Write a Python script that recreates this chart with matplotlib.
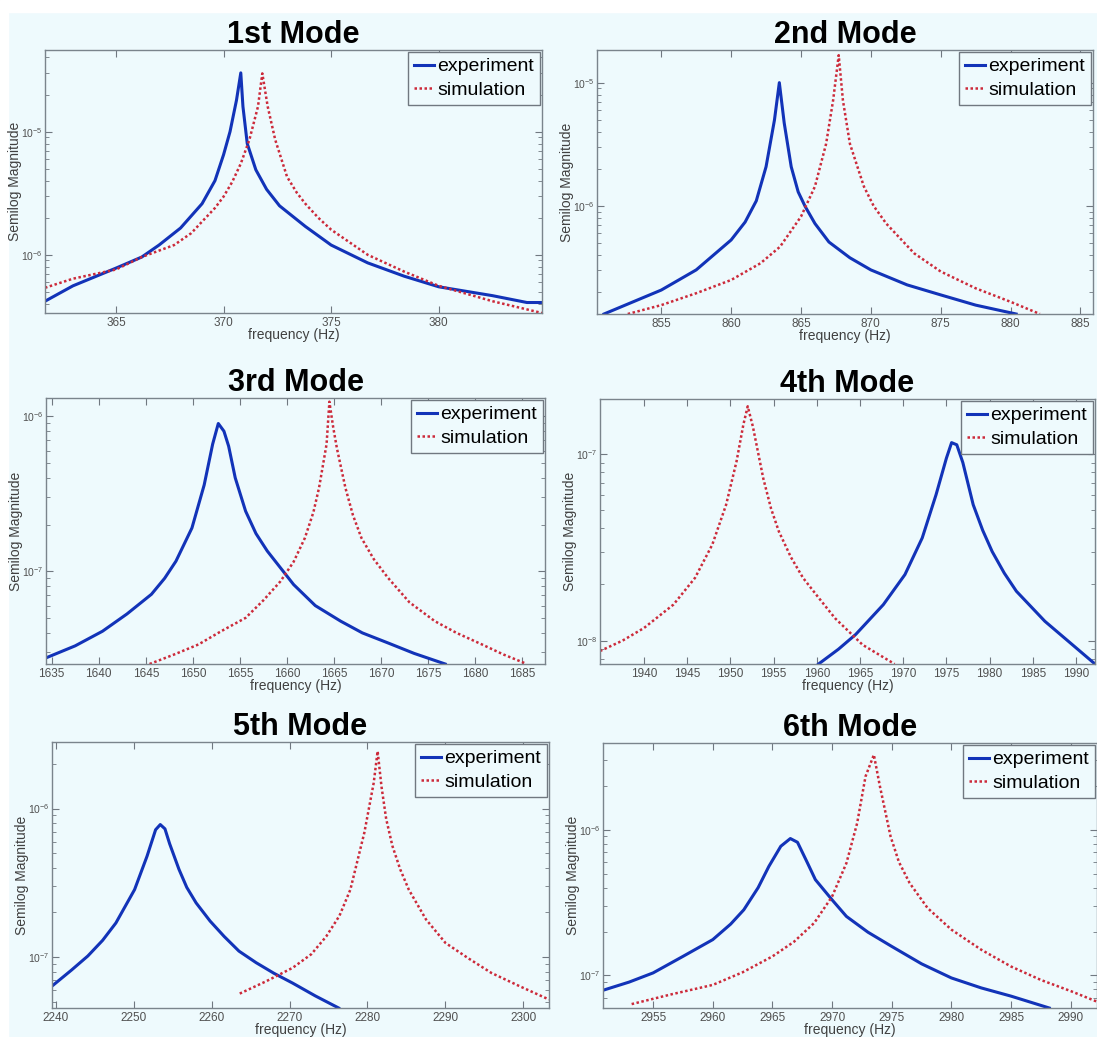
import numpy as np
import matplotlib.pyplot as plt
from matplotlib.patches import Rectangle
from matplotlib.ticker import NullFormatter, LogLocator

plt.rcParams['font.family'] = ['Liberation Sans', 'DejaVu Sans']

titles = ['1st Mode', '2nd Mode', '3rd Mode', '4th Mode', '5th Mode', '6th Mode']

# 1st mode
exp1_f = [361.7, 363.0, 365.0, 366.2, 367.0, 368.0, 369.0, 369.6, 370.0, 370.3, 370.6, 370.8, 370.9, 371.1,
          371.5, 372.0, 372.6, 373.8, 375.0, 376.7, 378.4, 380.0, 382.5, 384.1, 384.8]
exp1_m = [4.2e-7, 5.6e-7, 7.8e-7, 9.6e-7, 1.2e-6, 1.65e-6, 2.6e-6, 4.0e-6, 6.5e-6, 1.0e-5, 1.8e-5, 3.0e-5, 1.6e-5, 8.0e-6,
          4.9e-6, 3.4e-6, 2.5e-6, 1.7e-6, 1.2e-6, 8.6e-7, 6.7e-7, 5.5e-7, 4.66e-7, 4.1e-7, 4.1e-7]
sim1_f = [361.7, 363.0, 365.0, 366.2, 367.7, 368.5, 369.0, 369.6, 370.0, 370.4, 370.8, 371.2, 371.6, 371.8,
          372.05, 372.4, 372.95, 373.4, 373.8, 374.4, 375.0, 376.7, 378.4, 380.0, 382.5, 384.8]
sim1_m = [5.4e-7, 6.4e-7, 7.6e-7, 9.6e-7, 1.2e-6, 1.5e-6, 1.86e-6, 2.4e-6, 2.97e-6, 3.9e-6, 5.5e-6, 8.6e-6, 1.6e-5, 2.97e-5,
          1.6e-5, 8.6e-6, 4.3e-6, 3.2e-6, 2.6e-6, 2.0e-6, 1.6e-6, 1.0e-6, 7.3e-7, 5.6e-7, 4.2e-7, 3.37e-7]

# 2nd mode
exp2_f = [850.9, 855.0, 857.5, 860.0, 861.0, 861.8, 862.5, 863.1, 863.45, 863.8, 864.3, 864.8, 865.3, 866.0, 867.0,
          868.5, 870.0, 872.6, 875.0, 877.5, 880.4]
exp2_m = [1.33e-7, 2.08e-7, 3.03e-7, 5.3e-7, 7.4e-7, 1.1e-6, 2.08e-6, 4.97e-6, 1.0e-5, 4.7e-6, 2.08e-6, 1.3e-6, 9.9e-7, 7.2e-7, 5.1e-7,
          3.8e-7, 3.03e-7, 2.29e-7, 1.9e-7, 1.57e-7, 1.33e-7]
sim2_f = [852.6, 855.0, 857.5, 860.0, 862.1, 863.5, 865.0, 866.0, 866.8, 867.3, 867.7, 868.0, 868.5,
          869.5, 870.2, 871.1, 873.1, 875.0, 877.5, 880.0, 882.1]
sim2_m = [1.33e-7, 1.57e-7, 1.96e-7, 2.51e-7, 3.43e-7, 4.67e-7, 8.2e-7, 1.44e-6, 3.2e-6, 7.2e-6, 1.67e-5, 7.2e-6, 3.2e-6,
          1.44e-6, 1.0e-6, 7.2e-7, 4.13e-7, 2.94e-7, 2.15e-7, 1.67e-7, 1.33e-7]

# 3rd mode
exp3_f = [1634.4, 1637.5, 1640.4, 1643.0, 1645.6, 1647.0, 1648.2, 1649.9, 1651.2, 1652.1, 1652.7, 1653.3, 1653.8,
          1654.5, 1655.6, 1656.7, 1657.9, 1660.7, 1663.0, 1665.7, 1668.0, 1670.7, 1673.5, 1676.8]
exp3_m = [2.76e-8, 3.3e-8, 4.1e-8, 5.3e-8, 7.1e-8, 9.0e-8, 1.16e-7, 1.9e-7, 3.6e-7, 6.6e-7, 8.97e-7, 8.0e-7, 6.4e-7,
          4.0e-7, 2.44e-7, 1.75e-7, 1.35e-7, 8.2e-8, 6.0e-8, 4.76e-8, 4.0e-8, 3.45e-8, 2.95e-8, 2.52e-8]
sim3_f = [1645.4, 1648.0, 1650.6, 1653.0, 1655.6, 1657.5, 1659.3, 1660.7, 1661.9, 1662.8, 1663.4, 1664.2, 1664.5,
          1664.9, 1665.3, 1666.2, 1667.0, 1667.9, 1669.2, 1670.7, 1673.0, 1675.7, 1678.0, 1680.7, 1683.0, 1685.2]
sim3_m = [2.52e-8, 2.9e-8, 3.37e-8, 4.1e-8, 5.0e-8, 6.5e-8, 8.6e-8, 1.15e-7, 1.64e-7, 2.4e-7, 3.45e-7, 6.6e-7, 1.24e-6,
          8.5e-7, 6.2e-7, 3.45e-7, 2.3e-7, 1.64e-7, 1.2e-7, 9.1e-8, 6.3e-8, 4.76e-8, 4.0e-8, 3.37e-8, 2.9e-8, 2.56e-8]

# 4th mode
sim4_f = [1934.9, 1937.5, 1940.0, 1943.4, 1945.9, 1947.9, 1949.5, 1950.7, 1951.5, 1952.0, 1952.6, 1953.8, 1954.7,
          1955.6, 1957.0, 1958.4, 1960.2, 1962.1, 1965.3, 1969.0]
sim4_m = [8.8e-9, 1.0e-8, 1.17e-8, 1.56e-8, 2.17e-8, 3.27e-8, 5.35e-8, 9.1e-8, 1.44e-7, 1.8e-7, 1.4e-7, 7.4e-8, 5.1e-8,
          3.85e-8, 2.8e-8, 2.17e-8, 1.7e-8, 1.32e-8, 9.5e-9, 7.5e-9]
exp4_f = [1960.2, 1962.5, 1964.5, 1967.7, 1970.2, 1972.2, 1973.8, 1975.0, 1975.6, 1976.2, 1976.9, 1978.1, 1979.2,
          1980.3, 1981.7, 1983.1, 1986.4, 1989.6, 1992.2]
exp4_m = [7.5e-9, 9.0e-9, 1.08e-8, 1.56e-8, 2.26e-8, 3.55e-8, 6.05e-8, 9.5e-8, 1.15e-7, 1.12e-7, 9.0e-8, 5.35e-8, 3.9e-8,
          3.0e-8, 2.3e-8, 1.84e-8, 1.27e-8, 9.5e-9, 7.5e-9]

# 5th mode
exp5_f = [2239.5, 2242.0, 2244.1, 2246.0, 2247.7, 2250.1, 2251.7, 2252.8, 2253.4, 2254.0, 2254.6, 2255.8, 2256.8,
          2258.0, 2259.8, 2261.6, 2263.5, 2265.7, 2268.0, 2270.4, 2273.3, 2276.3]
exp5_m = [6.4e-8, 8.2e-8, 1.02e-7, 1.3e-7, 1.7e-7, 2.85e-7, 4.78e-7, 7.2e-7, 7.8e-7, 7.3e-7, 5.8e-7, 3.9e-7, 2.95e-7,
          2.32e-7, 1.75e-7, 1.38e-7, 1.1e-7, 9.2e-8, 7.8e-8, 6.7e-8, 5.5e-8, 4.56e-8]
sim5_f = [2263.6, 2267.0, 2270.4, 2272.8, 2274.7, 2276.4, 2277.8, 2279.6, 2280.8, 2281.3, 2281.8, 2282.4, 2283.2,
          2284.2, 2285.3, 2287.5, 2290.0, 2293.0, 2295.9, 2299.5, 2303.3]
sim5_m = [5.7e-8, 6.9e-8, 8.5e-8, 1.05e-7, 1.38e-7, 1.9e-7, 2.85e-7, 6.9e-7, 1.49e-6, 2.43e-6, 1.4e-6, 8.5e-7, 5.6e-7,
          3.9e-7, 2.85e-7, 1.8e-7, 1.25e-7, 9.8e-8, 7.85e-8, 6.4e-8, 5.2e-8]

# 6th mode
exp6_f = [2950.8, 2953.0, 2955.0, 2957.5, 2960.0, 2961.5, 2962.6, 2963.8, 2964.7, 2965.7, 2966.5, 2967.1, 2967.9,
          2968.6, 2970.0, 2971.2, 2973.0, 2975.0, 2977.5, 2980.0, 2982.5, 2985.0, 2988.2]
exp6_m = [7.9e-8, 9.0e-8, 1.04e-7, 1.35e-7, 1.76e-7, 2.25e-7, 2.82e-7, 4.0e-7, 5.6e-7, 7.7e-7, 8.7e-7, 8.2e-7, 6.0e-7,
          4.54e-7, 3.3e-7, 2.54e-7, 1.98e-7, 1.58e-7, 1.2e-7, 9.6e-8, 8.2e-8, 7.2e-8, 5.97e-8]
sim6_f = [2953.2, 2956.5, 2960.0, 2962.5, 2965.0, 2966.8, 2968.5, 2970.0, 2971.2, 2972.1, 2972.8, 2973.5, 2974.0,
          2974.9, 2975.6, 2976.5, 2978.0, 2980.0, 2982.5, 2985.0, 2987.5, 2990.0, 2992.2]
sim6_m = [6.35e-8, 7.4e-8, 8.6e-8, 1.05e-7, 1.35e-7, 1.7e-7, 2.29e-7, 3.48e-7, 5.9e-7, 1.11e-6, 2.32e-6, 3.27e-6, 2.0e-6,
          9.0e-7, 6.0e-7, 4.3e-7, 2.9e-7, 2.06e-7, 1.5e-7, 1.15e-7, 9.3e-8, 7.8e-8, 6.6e-8]

exp_f = [exp1_f, exp2_f, exp3_f, exp4_f, exp5_f, exp6_f]
exp_m = [exp1_m, exp2_m, exp3_m, exp4_m, exp5_m, exp6_m]
sim_f = [sim1_f, sim2_f, sim3_f, sim4_f, sim5_f, sim6_f]
sim_m = [sim1_m, sim2_m, sim3_m, sim4_m, sim5_m, sim6_m]

xlims = [(361.7, 384.8), (850.4, 885.9), (1634.4, 1687.4), (1934.9, 1992.2), (2239.5, 2303.3), (2950.8, 2992.2)]
ylims = [(3.37e-7, 4.6e-5), (1.33e-7, 1.84e-5), (2.52e-8, 1.31e-6), (7.5e-9, 1.97e-7), (4.56e-8, 2.8e-6), (5.97e-8, 3.94e-6)]
xticks = [range(365, 385, 5), range(855, 890, 5), range(1635, 1690, 5), range(1940, 1995, 5),
          range(2240, 2310, 10), range(2955, 2995, 5)]

# axes boxes in pixels: left, top, right, bottom
boxes = [(45, 50, 542, 313), (597, 50, 1093, 314), (46, 398, 545, 664),
         (600, 399, 1095, 664), (52, 742, 549, 1008), (603, 743, 1097, 1008)]

W, H = 1097, 1037
bg = '#eefafd'
blue = '#1233b8'
red = '#cc2a3a'

fig = plt.figure(figsize=(W / 100, H / 100), dpi=100, facecolor=bg)
fig.add_artist(Rectangle((0, 1 - 12 / H), 1, 12 / H, transform=fig.transFigure, color='white', zorder=0))
fig.add_artist(Rectangle((0, 0), 8 / W, 1, transform=fig.transFigure, color='white', zorder=0))

for i in range(6):
    l, t, r, b = boxes[i]
    ax = fig.add_axes([l / W, 1 - b / H, (r - l) / W, (b - t) / H])
    ax.set_facecolor(bg)
    ax.set_yscale('log')
    ax.plot(exp_f[i], exp_m[i], color=blue, lw=2.2, label='experiment')
    ax.plot(sim_f[i], sim_m[i], color=red, lw=1.8, ls=(0, (1, 1)), label='simulation')
    ax.set_xlim(*xlims[i])
    ax.set_ylim(*ylims[i])
    ax.set_xticks(list(xticks[i]))
    ax.yaxis.set_major_locator(LogLocator(base=10))
    ax.yaxis.set_minor_locator(LogLocator(base=10, subs=np.arange(2, 10)))
    ax.yaxis.set_minor_formatter(NullFormatter())
    ax.tick_params(which='both', direction='in', top=True, right=True, colors='#707880',
                   labelcolor='#505050', pad=3)
    ax.tick_params(axis='x', labelsize=8.5)
    ax.tick_params(axis='y', labelsize=7.5, pad=2)
    ax.tick_params(which='major', length=5)
    ax.tick_params(which='minor', length=3)
    for s in ax.spines.values():
        s.set_color('#7a848c')
        s.set_linewidth(1.0)
    ax.set_xlabel('frequency (Hz)', fontsize=10, color='#404040')
    ax.set_ylabel('Semilog Magnitude', fontsize=10, color='#404040')
    ax.xaxis.set_label_coords(0.5, -15 / (b - t))
    ax.yaxis.set_label_coords(-23 / (r - l), 0.5)
    ax.set_title(titles[i], fontsize=22, fontweight='bold', pad=5)
    leg = ax.legend(loc='upper right', fontsize=14, handlelength=1.0, handletextpad=0.2,
                    borderaxespad=0.1, borderpad=0.3, labelspacing=0.3, fancybox=False,
                    framealpha=1, facecolor=bg, edgecolor='#707880')
    leg.get_frame().set_linewidth(1.0)

fig.savefig('out.png', dpi=100, facecolor=bg)
